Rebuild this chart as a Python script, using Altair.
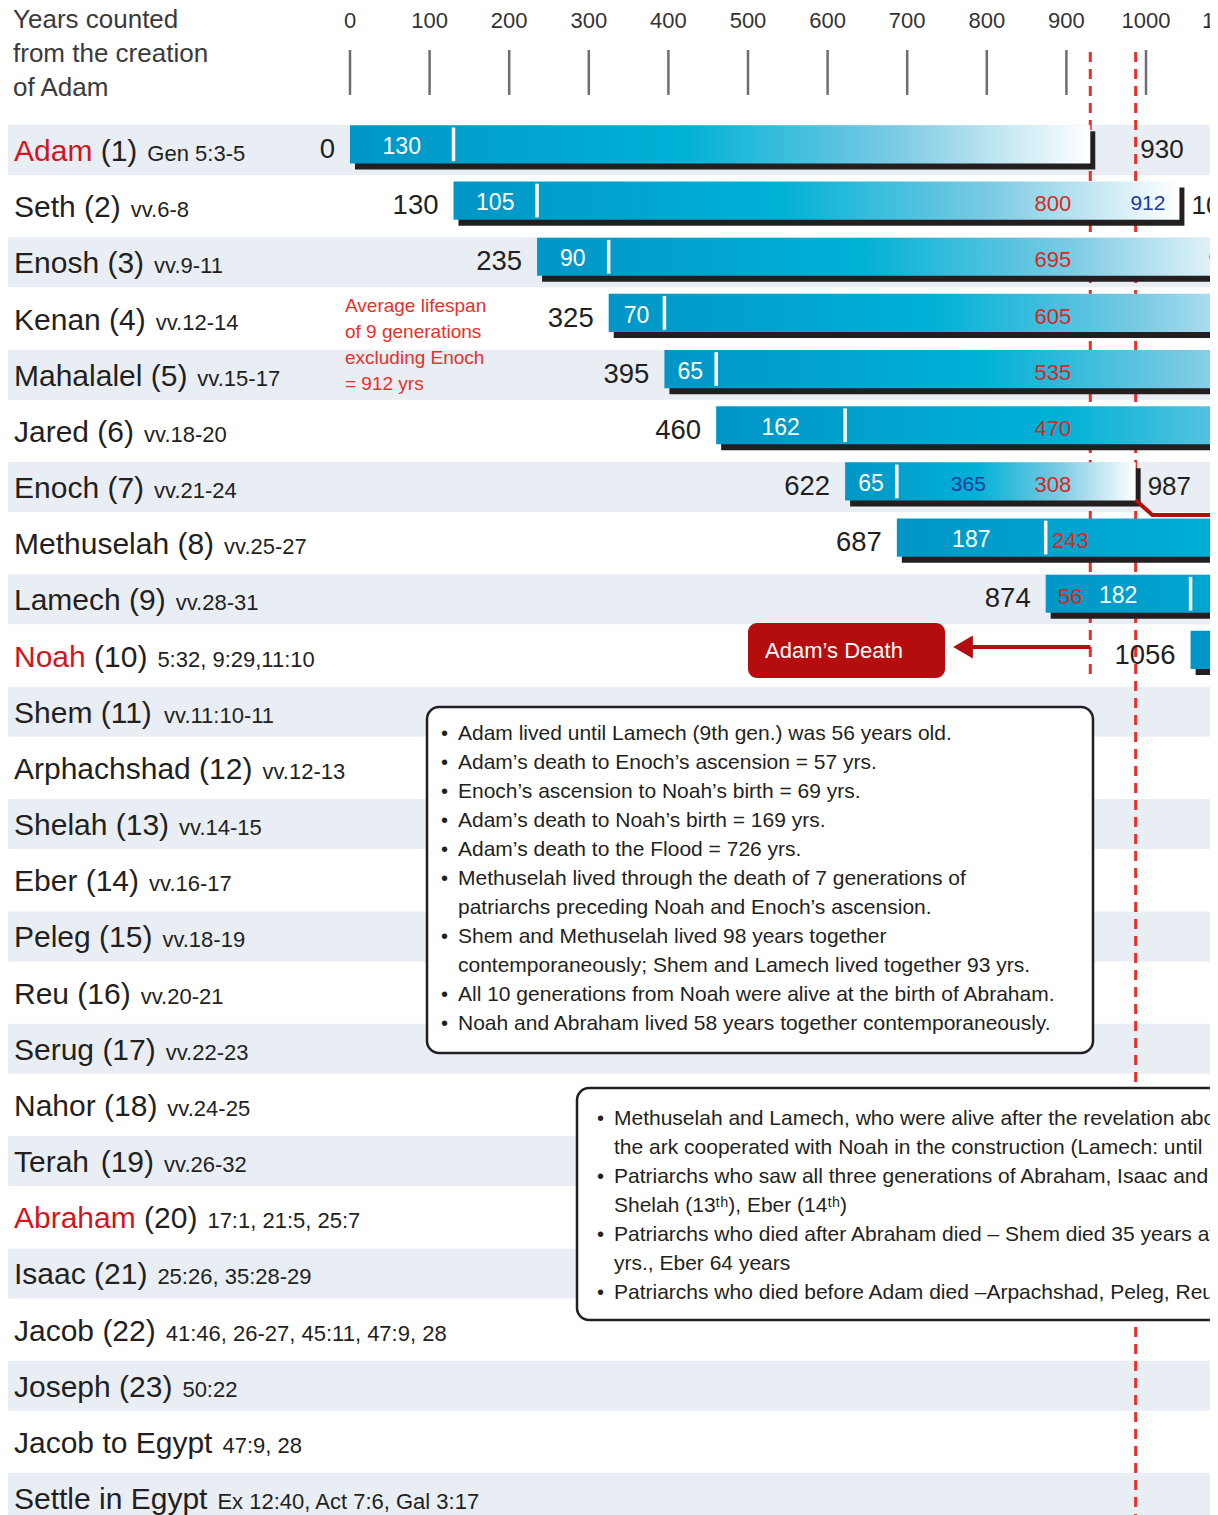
import altair as alt
import pandas as pd

# ---------------- chart data ----------------
ROW_NAMES = ["Adam", "Seth", "Enosh", "Kenan", "Mahalalel", "Jared", "Enoch",
             "Methuselah", "Lamech", "Noah", "Shem", "Arphachshad", "Shelah",
             "Eber", "Peleg", "Reu", "Serug", "Nahor", "Terah", "Abraham",
             "Isaac", "Jacob", "Joseph", "Jacob to Egypt", "Settle in Egypt"]
ROW_NUMBERS = ["(1)", "(2)", "(3)", "(4)", "(5)", "(6)", "(7)", "(8)", "(9)",
               "(10)", "(11)", "(12)", "(13)", "(14)", "(15)", "(16)", "(17)",
               "(18)", "(19)", "(20)", "(21)", "(22)", "(23)", "", ""]
ROW_REFS = ["Gen 5:3-5", "vv.6-8", "vv.9-11", "vv.12-14", "vv.15-17", "vv.18-20",
            "vv.21-24", "vv.25-27", "vv.28-31", "5:32, 9:29,11:10", "vv.11:10-11",
            "vv.12-13", "vv.14-15", "vv.16-17", "vv.18-19", "vv.20-21", "vv.22-23",
            "vv.24-25", "vv.26-32", "17:1, 21:5, 25:7", "25:26, 35:28-29",
            "41:46, 26-27, 45:11, 47:9, 28", "50:22", "47:9, 28",
            "Ex 12:40, Act 7:6, Gal 3:17"]
HIGHLIGHTED = ["Adam", "Noah", "Abraham"]

BAR_NAMES = ["Adam", "Seth", "Enosh", "Kenan", "Mahalalel", "Jared", "Enoch",
             "Methuselah", "Lamech", "Noah"]
BIRTH_YEAR = [0, 130, 235, 325, 395, 460, 622, 687, 874, 1056]
AGE_AT_SON = [130, 105, 90, 70, 65, 162, 65, 187, 182, 500]
LIFESPAN = [930, 912, 905, 910, 895, 962, 365, 969, 777, 950]
AGE_AT_ADAM_DEATH = [None, 800, 695, 605, 535, 470, 308, 243, 56, None]
ADAM_DEATH = 930
ENOCH_ASCENSION = 987

AXIS_TICKS = [0, 100, 200, 300, 400, 500, 600, 700, 800, 900, 1000, 1100]

HEADER = ["Years counted", "from the creation", "of Adam"]
AVG_NOTE = ["Average lifespan", "of 9 generations", "excluding Enoch", "= 912 yrs"]
NOTES_1 = [
    (True, "Adam lived until Lamech (9th gen.) was 56 years old."),
    (True, "Adam\u2019s death to Enoch\u2019s ascension = 57 yrs."),
    (True, "Enoch\u2019s ascension to Noah\u2019s birth = 69 yrs."),
    (True, "Adam\u2019s death to Noah\u2019s birth = 169 yrs."),
    (True, "Adam\u2019s death to the Flood = 726 yrs."),
    (True, "Methuselah lived through the death of 7 generations of"),
    (False, "patriarchs preceding Noah and Enoch\u2019s ascension."),
    (True, "Shem and Methuselah lived 98 years together"),
    (False, "contemporaneously; Shem and Lamech lived together 93 yrs."),
    (True, "All 10 generations from Noah were alive at the birth of Abraham."),
    (True, "Noah and Abraham lived 58 years together contemporaneously."),
]
NOTES_2 = [
    (True, "Methuselah and Lamech, who were alive after the revelation about"),
    (False, "the ark cooperated with Noah in the construction (Lamech: until"),
    (True, "Patriarchs who saw all three generations of Abraham, Isaac and Jacob"),
    (False, "Shelah (13\u1d57\u02b0), Eber (14\u1d57\u02b0)"),
    (True, "Patriarchs who died after Abraham died \u2013 Shem died 35 years after"),
    (False, "yrs., Eber 64 years"),
    (True, "Patriarchs who died before Adam died \u2013Arpachshad, Peleg, Reu,"),
]
DEATH_BOX_TEXT = "Adam\u2019s Death"

# ---------------- layout / style ----------------
REG = "Liberation Sans, Arial, Helvetica, sans-serif"
INK = "#231f20"
RED = "#d0161d"
DASH_RED = "#e8302a"
DARK_RED = "#b50d0d"
BLUE_TXT = "#1d3c9c"
NUM_RED = "#d42a1e"

W, H = 1202, 1507
X0, K = 342.0, 0.796      # plot px of year 0, px per year
Y0, P = 142.0, 56.17      # plot px of row 0, px per row
XS = alt.Scale(domain=[-X0 / K, (W - X0) / K], nice=False, zero=False)
YS = alt.Scale(domain=[-Y0 / P, (H - Y0) / P], nice=False, zero=False, reverse=True)


def px2yr(px):
    return (px - 8 - X0) / K


def py2row(py):
    return (py - 8 - Y0) / P


def xq(f):
    return alt.X(f"{f}:Q", scale=XS, axis=None)


def yq(f):
    return alt.Y(f"{f}:Q", scale=YS, axis=None)


# Arial / Liberation Sans advance widths (per 1000 em)
AW = {" ": 278, "(": 333, ")": 333, ",": 278, "-": 333, ".": 278, ":": 278}
AW.update({d: 556 for d in "0123456789"})
AW.update(dict(zip("ABCDEFGHIJKLMNOPQRSTUVWXYZ",
                   [667, 667, 722, 722, 667, 611, 778, 722, 278, 500, 667, 556, 833,
                    722, 778, 667, 778, 722, 667, 611, 722, 667, 944, 667, 667, 611])))
AW.update(dict(zip("abcdefghijklmnopqrstuvwxyz",
                   [556, 556, 500, 556, 556, 278, 556, 556, 222, 222, 500, 222, 833,
                    556, 556, 556, 556, 333, 500, 278, 556, 500, 722, 500, 500, 500])))


def tw(s, size):
    return sum(AW.get(c, 556) for c in s) * size / 1000.0


NAME_SIZE, REF_SIZE = 30, 22

# ---------------- stripes ----------------
stripe_df = pd.DataFrame({"row": [i for i in range(len(ROW_NAMES)) if i % 2 == 0]})
stripe_df["y1"] = stripe_df["row"] - 0.445
stripe_df["y2"] = stripe_df["row"] + 0.445
stripes = alt.Chart(stripe_df).mark_rect(color="#e9eef4").encode(
    x=alt.value(0), x2=alt.value(W), y=yq("y1"), y2=alt.Y2("y2"))

# ---------------- dashed event lines ----------------
dash_df = pd.DataFrame({"yr": [ADAM_DEATH, ENOCH_ASCENSION],
                        "r1": [py2row(52), py2row(52)],
                        "r2": [py2row(680), py2row(1530)]})
dashes = alt.Chart(dash_df).mark_rule(color=DASH_RED, strokeWidth=3, strokeDash=[10, 7]).encode(
    x=xq("yr"), y=yq("r1"), y2=alt.Y2("r2"))

# ---------------- bars ----------------
bars = pd.DataFrame({"name": BAR_NAMES, "birth": BIRTH_YEAR, "age": AGE_AT_SON,
                     "life": LIFESPAN})
bars["row"] = list(range(len(BAR_NAMES)))
bars["death"] = bars["birth"] + bars["life"]
bars["son_year"] = bars["birth"] + bars["age"]
bars["young_mid"] = bars["birth"] + bars["age"] / 2.0
bars["life_mid"] = bars["birth"] + bars["life"] / 2.0
bars["top"] = bars["row"] - 0.44
bars["bot"] = bars["row"] + 0.24
bars["tk1"] = bars["row"] - 0.40
bars["tk2"] = bars["row"] + 0.20
bars["age_txt"] = bars["age"].astype(str)
bars["birth_txt"] = bars["birth"].astype(str)
bars["death_txt"] = bars["death"].astype(str)
bars["life_txt"] = bars["life"].astype(str)
bars["adam_death"] = ADAM_DEATH
bars["at_adam"] = [("" if v is None else str(v)) for v in AGE_AT_ADAM_DEATH]

shadow = alt.Chart(bars).mark_rect(color=INK, xOffset=5, x2Offset=5, yOffset=6, y2Offset=6).encode(
    x=xq("birth"), x2=alt.X2("death"), y=yq("top"), y2=alt.Y2("bot"))

grad = alt.LinearGradient(
    gradient="linear", x1=0, x2=1, y1=0, y2=0,
    stops=[alt.GradientStop(color="#0096c7", offset=0),
           alt.GradientStop(color="#00b1d6", offset=0.45),
           alt.GradientStop(color="#7ccbe4", offset=0.74),
           alt.GradientStop(color="#ffffff", offset=1)])
main_bars = alt.Chart(bars).mark_rect(fill=grad).encode(
    x=xq("birth"), x2=alt.X2("death"), y=yq("top"), y2=alt.Y2("bot"))

ticks = alt.Chart(bars).mark_rule(color="white", strokeWidth=3.5).encode(
    x=xq("son_year"), y=yq("tk1"), y2=alt.Y2("tk2"))

young_txt = alt.Chart(bars).mark_text(font=REG, fontSize=23, color="white", dy=-3).encode(
    x=xq("young_mid"), y=yq("row"), text="age_txt:N")

red_std = bars[bars["at_adam"] != ""].copy()
red_a = red_std[~red_std["name"].isin(["Methuselah", "Lamech"])]
red_b = red_std[red_std["name"].isin(["Methuselah", "Lamech"])]
red_txt_a = alt.Chart(red_a).mark_text(font=REG, fontSize=22, color=NUM_RED, align="right",
                                       dx=-19, dy=-2).encode(
    x=xq("adam_death"), y=yq("row"), text="at_adam:N")
red_txt_b = alt.Chart(red_b).mark_text(font=REG, fontSize=22, color=NUM_RED, align="center",
                                       dx=-20, dy=-2).encode(
    x=xq("adam_death"), y=yq("row"), text="at_adam:N")

blue_std = bars[~bars["name"].isin(["Adam", "Enoch"])]
blue_txt = alt.Chart(blue_std).mark_text(font=REG, fontSize=21, color=BLUE_TXT, align="right",
                                         dx=-14, dy=-2).encode(
    x=xq("death"), y=yq("row"), text="life_txt:N")
blue_enoch = alt.Chart(bars[bars["name"] == "Enoch"]).mark_text(
    font=REG, fontSize=21, color=BLUE_TXT, dx=-22, dy=-2).encode(
    x=xq("life_mid"), y=yq("row"), text="life_txt:N")

birth_lbl = alt.Chart(bars).mark_text(font=REG, fontSize=27.5, color=INK, align="right", dx=-15).encode(
    x=xq("birth"), y=yq("row"), text="birth_txt:N")
death_std = alt.Chart(bars[bars["name"] != "Adam"]).mark_text(
    font=REG, fontSize=26, color=INK, align="left", dx=12).encode(
    x=xq("death"), y=yq("row"), text="death_txt:N")
death_adam = alt.Chart(bars[bars["name"] == "Adam"]).mark_text(
    font=REG, fontSize=26, color=INK, align="left", dx=50).encode(
    x=xq("death"), y=yq("row"), text="death_txt:N")

# ---------------- row names ----------------
x_left = px2yr(14)
nm = pd.DataFrame({"name": ROW_NAMES, "num": ROW_NUMBERS, "ref": ROW_REFS})
nm["row"] = list(range(len(ROW_NAMES)))
nm["col"] = [RED if n in HIGHLIGHTED else INK for n in ROW_NAMES]
nm["x_name"] = x_left
nm["x_num"] = [x_left + tw(n + " ", NAME_SIZE) / K for n in ROW_NAMES]
nm["x_ref"] = [x_left + (tw(n + (" " + s if s else ""), NAME_SIZE) + 10) / K
               for n, s in zip(ROW_NAMES, ROW_NUMBERS)]

name_txt = alt.Chart(nm).mark_text(font=REG, fontSize=NAME_SIZE, align="left",
                                   baseline="alphabetic", dy=11).encode(
    x=xq("x_name"), y=yq("row"), text="name:N", color=alt.Color("col:N", scale=None))
num_txt = alt.Chart(nm).mark_text(font=REG, fontSize=NAME_SIZE, align="left",
                                  baseline="alphabetic", dy=11, color=INK).encode(
    x=xq("x_num"), y=yq("row"), text="num:N")
ref_txt = alt.Chart(nm).mark_text(font=REG, fontSize=REF_SIZE, align="left",
                                  baseline="alphabetic", dy=11, color=INK).encode(
    x=xq("x_ref"), y=yq("row"), text="ref:N")

# ---------------- top axis ----------------
ax = pd.DataFrame({"t": AXIS_TICKS})
ax["lbl"] = ax["t"].astype(str)
ax["ly"] = py2row(21)
ax["r1"] = py2row(50)
ax["r2"] = py2row(95)
axis_lbl = alt.Chart(ax).mark_text(font=REG, fontSize=22, color="#333333").encode(
    x=xq("t"), y=yq("ly"), text="lbl:N")
axis_tick = alt.Chart(ax).mark_rule(color="#6d6e71", strokeWidth=2.5).encode(
    x=xq("t"), y=yq("r1"), y2=alt.Y2("r2"))

# ---------------- header & average note ----------------
hd = pd.DataFrame({"txt": HEADER, "x": px2yr(13),
                   "y": [py2row(20 + 34 * i) for i in range(len(HEADER))]})
header = alt.Chart(hd).mark_text(font=REG, fontSize=26, color="#3a3a3a", align="left").encode(
    x=xq("x"), y=yq("y"), text="txt:N")

av = pd.DataFrame({"txt": AVG_NOTE, "x": px2yr(345),
                   "y": [py2row(306 + 26 * i) for i in range(len(AVG_NOTE))]})
avg_note = alt.Chart(av).mark_text(font=REG, fontSize=19, color=DASH_RED, align="left").encode(
    x=xq("x"), y=yq("y"), text="txt:N")

# ---------------- Enoch connector & Adam's death arrow ----------------
en = pd.DataFrame({"i": [0, 1, 2],
                   "x": [ENOCH_ASCENSION, ENOCH_ASCENSION + 21, 1120],
                   "y": [py2row(500), py2row(515), py2row(515)]})
enoch_line = alt.Chart(en).mark_line(color=DARK_RED, strokeWidth=4).encode(
    x=xq("x"), y=yq("y"), order="i:Q")

ar = pd.DataFrame({"x": [ADAM_DEATH], "x2": [px2yr(968)], "y": [py2row(647)]})
arrow_line = alt.Chart(ar).mark_rule(color=DARK_RED, strokeWidth=4).encode(
    x=xq("x"), x2=alt.X2("x2"), y=yq("y"))
ah = pd.DataFrame({"x": [px2yr(963)], "y": [py2row(647)]})
arrow_head = alt.Chart(ah).mark_point(shape="triangle-left", filled=True, size=520,
                                      color=DARK_RED, opacity=1).encode(x=xq("x"), y=yq("y"))

db = pd.DataFrame({"x": [px2yr(748)], "x2": [px2yr(945)], "y": [py2row(623)], "y2": [py2row(678)],
                   "xc": [px2yr(834)], "yc": [py2row(651)], "txt": [DEATH_BOX_TEXT]})
death_box = alt.Chart(db).mark_rect(fill=DARK_RED, cornerRadius=9).encode(
    x=xq("x"), x2=alt.X2("x2"), y=yq("y"), y2=alt.Y2("y2"))
death_box_txt = alt.Chart(db).mark_text(font=REG, fontSize=22, color="white").encode(
    x=xq("xc"), y=yq("yc"), text="txt:N")


# ---------------- note boxes ----------------
def note_layers(lines, box, bullet_px, text_px, first_py, pitch=29):
    bx = pd.DataFrame({"x": [px2yr(box[0])], "x2": [px2yr(box[1])],
                       "y": [py2row(box[2])], "y2": [py2row(box[3])]})
    rect = alt.Chart(bx).mark_rect(fill="white", stroke=INK, strokeWidth=2.5, cornerRadius=12).encode(
        x=xq("x"), x2=alt.X2("x2"), y=yq("y"), y2=alt.Y2("y2"))
    df = pd.DataFrame({"txt": [t for _, t in lines],
                       "bul": ["\u2022" if b else "" for b, _ in lines],
                       "y": [py2row(first_py + pitch * i) for i in range(len(lines))]})
    df["xt"] = px2yr(text_px)
    df["xb"] = px2yr(bullet_px)
    txt = alt.Chart(df).mark_text(font=REG, fontSize=21, color=INK, align="left").encode(
        x=xq("xt"), y=yq("y"), text="txt:N")
    bul = alt.Chart(df).mark_text(font=REG, fontSize=20, color=INK, align="left").encode(
        x=xq("xb"), y=yq("y"), text="bul:N")
    return [rect, txt, bul]


box1 = note_layers(NOTES_1, (427, 1093, 707, 1053), 441, 458, 734)
box2 = note_layers(NOTES_2, (577, 1300, 1088, 1320), 597, 614, 1119)

chart = alt.layer(
    stripes, dashes, shadow, main_bars, ticks, young_txt, red_txt_a, red_txt_b,
    blue_txt, blue_enoch, birth_lbl, death_std, death_adam,
    name_txt, num_txt, ref_txt, axis_lbl, axis_tick, header, avg_note,
    enoch_line, arrow_line, arrow_head, death_box, death_box_txt,
    *box1, *box2,
).properties(
    width=W, height=H, padding=0, background="white",
    autosize=alt.AutoSizeParams(type="none"),
).configure_view(strokeWidth=0)

chart.save("out.html", embed_options={"renderer": "svg", "actions": False})
